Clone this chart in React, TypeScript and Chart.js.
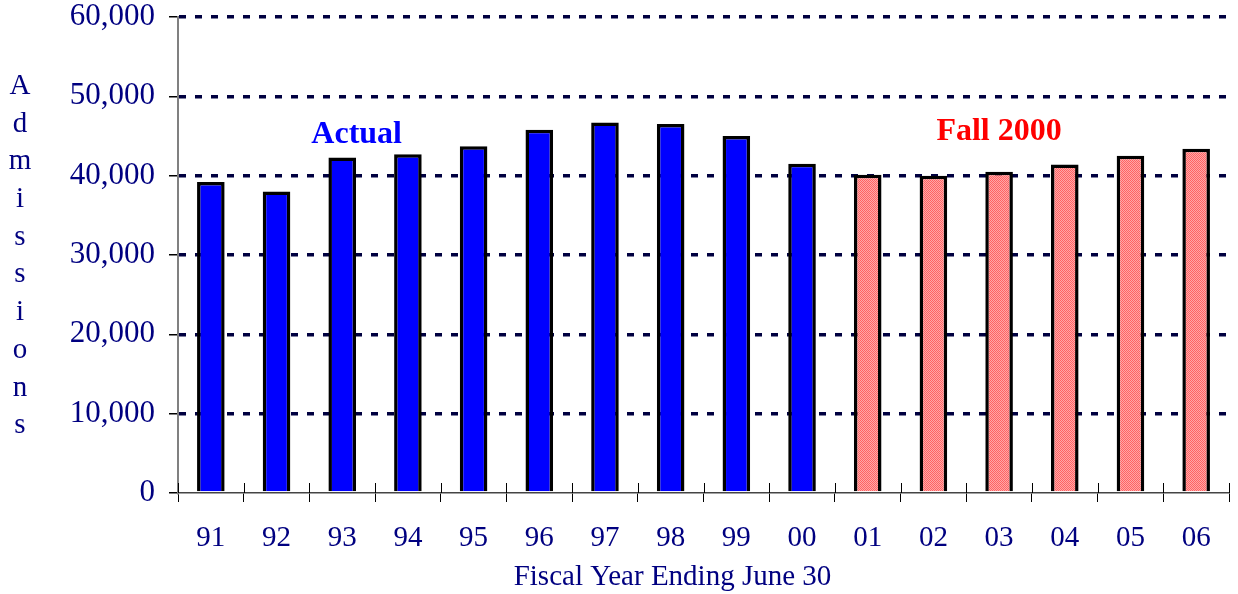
import React, { useEffect, useRef } from 'react';
import { Chart, registerables } from 'chart.js';

Chart.register(...registerables);

const categories = ['91', '92', '93', '94', '95', '96', '97', '98', '99', '00', '01', '02', '03', '04', '05', '06'];
const actualValues = [39200, 38000, 42300, 42700, 43700, 45800, 46700, 46500, 45000, 41500];
const projectedValues = [40100, 40000, 40500, 41400, 42500, 43400];
const yMin = 0;
const yMax = 60000;
const yStep = 10000;
const xTitle = 'Fiscal Year Ending June 30';
const yTitle = 'Admissions';
const actualLabel = 'Actual';
const projectedLabel = 'Fall 2000';

const SERIF = "'Liberation Serif', 'Times New Roman', serif";
const NAVY = '#000080';

export default function App() {
  const ref = useRef<HTMLCanvasElement | null>(null);

  useEffect(() => {
    const canvas = ref.current;
    if (!canvas) return;
    const ctx = canvas.getContext('2d')!;

    const pc = document.createElement('canvas');
    pc.width = 2;
    pc.height = 2;
    const p = pc.getContext('2d')!;
    p.fillStyle = '#ffa8a8';
    p.fillRect(0, 0, 2, 2);
    p.fillStyle = '#ff6464';
    p.fillRect(0, 0, 1, 1);
    p.fillRect(1, 1, 1, 1);
    const pattern = ctx.createPattern(pc, 'repeat')!;

    const actualData = [...actualValues, ...projectedValues.map(() => null)];
    const projectedData = [...actualValues.map(() => null), ...projectedValues];

    const overlay = {
      id: 'overlay',
      afterDraw(chart: any) {
        const c = chart.ctx;
        const area = chart.chartArea;
        const xs = chart.scales.x;
        const ys = chart.scales.y;
        c.save();
        // inner part of the crossing x tick marks
        c.strokeStyle = '#000';
        c.lineWidth = 1;
        const step = xs.getPixelForValue(1) - xs.getPixelForValue(0);
        for (let i = 0; i <= categories.length; i++) {
          const x = Math.round(xs.getPixelForValue(i) - step / 2) + 0.5;
          c.beginPath();
          c.moveTo(x, area.bottom - 10);
          c.lineTo(x, area.bottom);
          c.stroke();
        }
        // annotations
        c.font = `bold 32px ${SERIF}`;
        c.textAlign = 'center';
        c.textBaseline = 'middle';
        c.fillStyle = '#0000ff';
        c.fillText(actualLabel, xs.getPixelForValue(2) + step * 0.22, ys.getPixelForValue(45100));
        c.fillStyle = '#ff0000';
        c.fillText(projectedLabel, xs.getPixelForValue(12), ys.getPixelForValue(45500));
        // y title, stacked letters
        c.fillStyle = NAVY;
        c.font = `29px ${SERIF}`;
        const letters = yTitle.split('');
        const gap = 37.7;
        const mid = (area.top + area.bottom) / 2 + 1;
        letters.forEach((ch, i) => {
          c.fillText(ch, 20, mid + (i - (letters.length - 1) / 2) * gap);
        });
        // x title
        c.font = `29px ${SERIF}`;
        c.fillText(xTitle, (area.left + area.right) / 2 - 31, 577);
        c.restore();
      },
    };

    const chart = new Chart(ctx, {
      type: 'bar',
      data: {
        labels: categories,
        datasets: [
          {
            label: actualLabel,
            data: actualData,
            backgroundColor: '#0000ff',
            borderColor: '#000000',
            borderWidth: 3.5,
            borderSkipped: 'bottom',
            grouped: false,
            barPercentage: 0.42,
            categoryPercentage: 1,
          },
          {
            label: projectedLabel,
            data: projectedData,
            backgroundColor: pattern,
            borderColor: '#000000',
            borderWidth: 3.5,
            borderSkipped: 'bottom',
            grouped: false,
            barPercentage: 0.42,
            categoryPercentage: 1,
          },
        ] as any,
      },
      options: {
        animation: false,
        responsive: false,
        maintainAspectRatio: false,
        layout: { padding: { top: 17, right: 9, left: 0, bottom: 0 } },
        plugins: {
          legend: { display: false },
          tooltip: { enabled: false },
          title: { display: false },
        },
        scales: {
          x: {
            offset: true,
            grid: {
              offset: true,
              drawOnChartArea: false,
              drawTicks: true,
              tickLength: 9,
              color: '#000',
              tickWidth: 1,
            },
            border: { color: '#444', width: 1.5 },
            ticks: {
              color: NAVY,
              font: { family: SERIF, size: 29 },
              padding: 19,
              maxRotation: 0,
              autoSkip: false,
            },
            afterFit(s: any) {
              s.height = 101;
              s.paddingLeft = 0;
              s.paddingRight = 0;
            },
          },
          y: {
            min: yMin,
            max: yMax,
            ticks: {
              stepSize: yStep,
              color: NAVY,
              font: { family: SERIF, size: 31 },
              padding: 14,
              callback: (v: any) => Number(v).toLocaleString('en-US'),
            },
            grid: {
              color: (c: any) => (c.tick && c.tick.value === 0 ? 'rgba(0,0,0,0)' : '#000040'),
              lineWidth: 3.5,
              tickColor: '#000',
              tickWidth: 1.5,
              tickLength: 9,
              tickBorderDash: [],
            },
            border: { color: '#808080', width: 2, dash: [7, 9] },
            afterFit(s: any) {
              s.width = 178;
              s.paddingTop = 0;
              s.paddingBottom = 0;
            },
          },
        },
      },
      plugins: [overlay],
    } as any);

    return () => chart.destroy();
  }, []);

  return (
    <div style={{ position: 'absolute', left: 0, top: 0, width: 1238, height: 594, background: '#fff' }}>
      <canvas ref={ref} width={1238} height={594} style={{ display: 'block', width: 1238, height: 594 }} />
    </div>
  );
}
